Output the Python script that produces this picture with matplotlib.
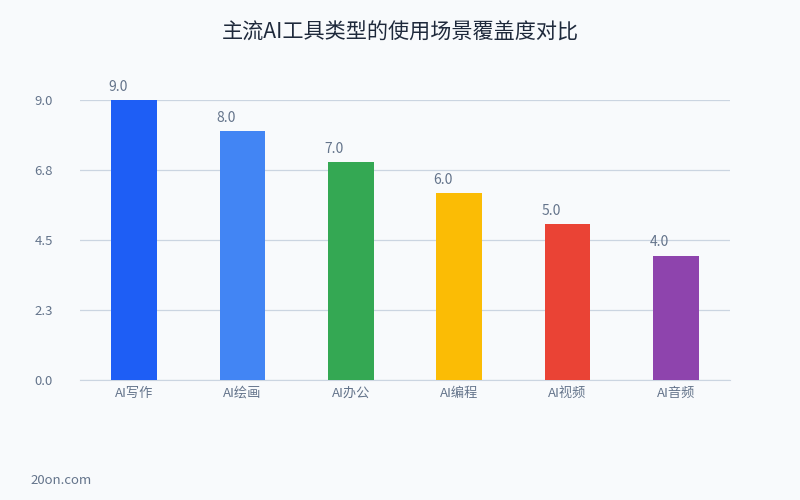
import matplotlib
matplotlib.use("Agg")
import matplotlib.pyplot as plt

plt.rcParams['font.family'] = ['Noto Sans CJK SC', 'DejaVu Sans']

categories = ['AI写作', 'AI绘画', 'AI办公', 'AI编程', 'AI视频', 'AI音频']
values = [9.0, 8.0, 7.0, 6.0, 5.0, 4.0]
colors = ['#1E5EF5', '#4285F4', '#34A853', '#FBBC05', '#EA4335', '#8E44AD']
yticks = [0, 2.25, 4.5, 6.75, 9.0]
ytick_labels = ['0.0', '2.3', '4.5', '6.8', '9.0']

bg = '#F8FAFC'
text_col = '#64748B'
bar_w = 0.42

fig = plt.figure(figsize=(8, 5), dpi=100, facecolor=bg)
ax = fig.add_axes([0.1, 0.24, 0.8125, 0.56])
ax.set_facecolor(bg)

x = range(len(categories))
ax.bar(x, values, width=bar_w, color=colors, zorder=3)
# value labels sit near the left edge of each bar
for xi, v in zip(x, values):
    ax.text(xi - bar_w / 2 - 0.03, v + 0.2, f'{v:.1f}', ha='left', va='bottom',
            fontsize=10, color=text_col)

ax.set_xlim(-0.5, len(categories) - 0.5)
ax.set_ylim(0, 9)
ax.set_yticks(yticks)
ax.set_yticklabels(ytick_labels)
ax.set_xticks(list(x))
ax.set_xticklabels(categories)
ax.tick_params(axis='both', length=0, labelsize=9.5, labelcolor=text_col)
ax.tick_params(axis='y', pad=19.5)
ax.tick_params(axis='x', pad=5)
ax.grid(axis='y', color='#CBD5E1', linewidth=0.9, zorder=0)
for s in ['top', 'right', 'left']:
    ax.spines[s].set_visible(False)
ax.spines['bottom'].set_color('#CBD5E1')

fig.text(0.5, 0.935, '主流AI工具类型的使用场景覆盖度对比', ha='center', va='center',
         fontsize=15.2, color='#1E293B')
fig.text(0.0375, 0.04, '20on.com', ha='left', va='center', fontsize=9.5, color=text_col)

fig.savefig('out.png', dpi=100, facecolor=bg)
